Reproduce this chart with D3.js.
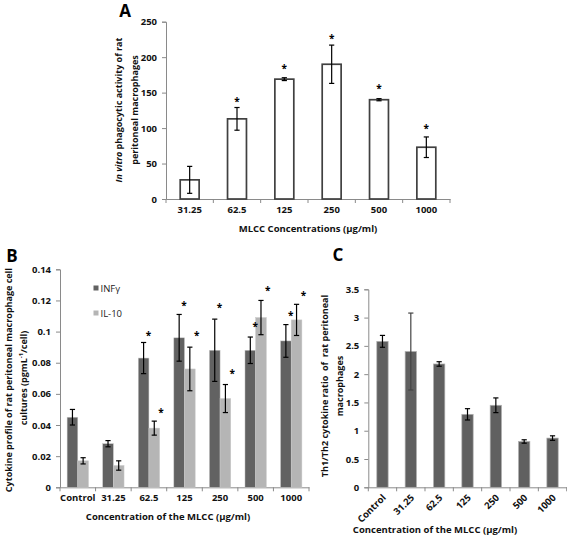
<!DOCTYPE html>
<html>
<head>
<meta charset="utf-8">
<script src="https://cdn.jsdelivr.net/npm/d3@7"></script>
<style>
  html, body { margin: 0; padding: 0; background: #fff; }
  svg { display: block; }
  text { font-family: "Open Sans", Lato, sans-serif; }
</style>
</head>
<body>
<svg id="chart" width="567" height="541"></svg>
<script>
// ---------------- Panel A data ----------------
const A_categories = ["31.25", "62.5", "125", "250", "500", "1000"];
const A_values = [27, 113, 169, 190, 140, 73];
const A_errors = [19, 16, 2, 27, 1.5, 14.5];
const A_stars = [null, 139, 186, 229, 158, 101];
const A_yTicks = [0, 50, 100, 150, 200, 250];

// ---------------- Panel B data ----------------
const B_categories = ["Control", "31.25", "62.5", "125", "250", "500", "1000"];
const B_series = ["INFγ", "IL-10"];
const B_infg = [0.045, 0.028, 0.083, 0.096, 0.088, 0.088, 0.094];
const B_infgErr = [0.005, 0.002, 0.010, 0.015, 0.020, 0.0085, 0.0105];
const B_il10 = [0.017, 0.014, 0.038, 0.076, 0.057, 0.109, 0.1075];
const B_il10Err = [0.002, 0.003, 0.0045, 0.014, 0.009, 0.011, 0.010];
const B_infgStars = [null, null, 0.0985, 0.1178, 0.1167, 0.1043, 0.1113];
const B_il10Stars = [null, null, 0.0493, 0.0985, 0.0743, 0.1274, 0.1244];
const B_yTicks = [0, 0.02, 0.04, 0.06, 0.08, 0.1, 0.12, 0.14];

// ---------------- Panel C data ----------------
const C_categories = ["Control", "31.25", "62.5", "125", "250", "500", "1000"];
const C_values = [2.58, 2.40, 2.18, 1.29, 1.45, 0.81, 0.87];
const C_errors = [0.105, 0.68, 0.04, 0.10, 0.13, 0.03, 0.04];
const C_yTicks = [0, 0.5, 1, 1.5, 2, 2.5, 3, 3.5];

const svg = d3.select("#chart");
const axisColor = "#8a8a8a";
const FONT = "'Open Sans', Lato, sans-serif";
const fmt = d3.format("~g");

function styleAxis(g) {
  g.select(".domain").attr("stroke", axisColor).attr("stroke-width", 1);
  g.selectAll(".tick line").attr("stroke", axisColor);
  g.selectAll(".tick text").attr("fill", "#111").attr("font-size", 9.5).attr("font-weight", 700)
    .attr("font-family", FONT);
}

function bandTicks(g, x, y0) {
  const step = x.step();
  const off = (step - x.bandwidth()) / 2;
  const bounds = x.domain().map(d => x(d) - off);
  bounds.push(x(x.domain()[x.domain().length - 1]) + x.bandwidth() + off);
  g.selectAll(".bt").data(bounds).join("line")
    .attr("x1", d => d).attr("x2", d => d)
    .attr("y1", y0).attr("y2", y0 + 4)
    .attr("stroke", axisColor);
}

function errorBar(g, cx, yTop, yBot, color) {
  const cap = 2.6;
  g.append("line").attr("x1", cx).attr("x2", cx).attr("y1", yTop).attr("y2", yBot)
    .attr("stroke", color).attr("stroke-width", 1.2);
  g.append("line").attr("x1", cx - cap).attr("x2", cx + cap).attr("y1", yTop).attr("y2", yTop)
    .attr("stroke", color).attr("stroke-width", 1.2);
  g.append("line").attr("x1", cx - cap).attr("x2", cx + cap).attr("y1", yBot).attr("y2", yBot)
    .attr("stroke", color).attr("stroke-width", 1.2);
}

function star(g, cx, cy) {
  g.append("text").attr("x", cx).attr("y", cy + 5).attr("text-anchor", "middle")
    .attr("font-size", 10).attr("font-weight", 700).attr("fill", "#000")
    .attr("font-family", "'DejaVu Sans', sans-serif").text("*");
}

function titleText(g, x, y, size) {
  return g.append("text").attr("x", x).attr("y", y).attr("text-anchor", "middle")
    .attr("font-size", size).attr("font-weight", 700).attr("font-family", FONT).attr("fill", "#111");
}

function rotText(g, x, y, size) {
  return g.append("text").attr("transform", `translate(${x},${y}) rotate(-90)`)
    .attr("text-anchor", "middle").attr("font-size", size).attr("font-weight", 700)
    .attr("font-family", FONT).attr("fill", "#111");
}

function panelLetter(g, x, y, s) {
  g.append("text").attr("x", x).attr("y", y).attr("text-anchor", "middle")
    .attr("font-size", 17).attr("font-weight", 700)
    .attr("font-family", "'Liberation Sans', Arial, sans-serif").text(s);
}

// ================= Panel A =================
{
  const g = svg.append("g");
  const x = d3.scaleBand().domain(A_categories).range([166, 450]).paddingInner(0.6).paddingOuter(0.3);
  const y = d3.scaleLinear().domain([0, 250]).range([199, 21.7]);

  const ya = g.append("g").attr("transform", "translate(166,0)")
    .call(d3.axisLeft(y).tickValues(A_yTicks).tickSize(4).tickPadding(5).tickFormat(fmt));
  styleAxis(ya);
  const xa = g.append("g").attr("transform", "translate(0,199)")
    .call(d3.axisBottom(x).tickSize(0).tickPadding(7));
  styleAxis(xa);
  bandTicks(g, x, 199);

  g.selectAll(".barA").data(A_categories).join("rect")
    .attr("x", d => x(d)).attr("width", x.bandwidth())
    .attr("y", (d, i) => y(A_values[i])).attr("height", (d, i) => 199 - y(A_values[i]))
    .attr("fill", "#fff").attr("stroke", "#404040").attr("stroke-width", 1.7);

  A_categories.forEach((c, i) => {
    const cx = x(c) + x.bandwidth() / 2;
    errorBar(g, cx, y(A_values[i] + A_errors[i]), y(A_values[i] - A_errors[i]), "#000");
    if (A_stars[i] != null) star(g, cx, y(A_stars[i]));
  });

  titleText(g, 308, 232, 9.5).text("MLCC Concentrations (µg/ml)");

  const yt = rotText(g, 122, 110, 9);
  yt.append("tspan").attr("font-style", "italic").text("In vitro");
  yt.append("tspan").text(" phagocytic activity of rat");
  rotText(g, 137.5, 110, 9).text("peritoneal macrophages");

  panelLetter(g, 125, 17, "A");
}

// ================= Panel B =================
{
  const g = svg.append("g");
  const x = d3.scaleBand().domain(B_categories).range([60, 309]).paddingInner(0.4).paddingOuter(0.2);
  const y = d3.scaleLinear().domain([0, 0.14]).range([487.3, 269.3]);

  const ya = g.append("g").attr("transform", "translate(60,0)")
    .call(d3.axisLeft(y).tickValues(B_yTicks).tickSize(4).tickPadding(5).tickFormat(fmt));
  styleAxis(ya);
  const xa = g.append("g").attr("transform", "translate(0,487.3)")
    .call(d3.axisBottom(x).tickSize(0).tickPadding(7));
  styleAxis(xa);
  bandTicks(g, x, 487.3);

  const xs = d3.scaleBand().domain(B_series).range([0, x.bandwidth()]);
  const colors = ["#626262", "#b5b5b5"];
  const vals = [B_infg, B_il10], errs = [B_infgErr, B_il10Err], stars = [B_infgStars, B_il10Stars];

  B_series.forEach((s, si) => {
    g.selectAll(".barB" + si).data(B_categories).join("rect")
      .attr("x", d => x(d) + xs(s)).attr("width", xs.bandwidth())
      .attr("y", (d, i) => y(vals[si][i])).attr("height", (d, i) => 487.3 - y(vals[si][i]))
      .attr("fill", colors[si]).attr("stroke", "#c8c8c8").attr("stroke-width", 0.5);
  });
  B_series.forEach((s, si) => {
    B_categories.forEach((c, i) => {
      const cx = x(c) + xs(s) + xs.bandwidth() / 2;
      errorBar(g, cx, y(vals[si][i] + errs[si][i]), y(vals[si][i] - errs[si][i]), "#000");
      if (stars[si][i] != null) star(g, x(c) + xs(s) + xs.bandwidth() + (si ? 1.5 : -0.5), y(stars[si][i]));
    });
  });

  // legend
  B_series.forEach((s, si) => {
    const ly = 288 + si * 25;
    g.append("rect").attr("x", 93.5).attr("y", ly - 2.5).attr("width", 5).attr("height", 5).attr("fill", colors[si]);
    g.append("text").attr("x", 100.5).attr("y", ly + 3.5).attr("font-size", 9.5)
      .attr("font-family", FONT).attr("fill", "#222").text(s);
  });

  titleText(g, 168, 520, 9.5).text("Concentration of the MLCC (µg/ml)");

  rotText(g, 11.5, 380, 9).text("Cytokine profile of rat peritoneal macrophage cell");
  const l2 = rotText(g, 26.5, 378, 9);
  l2.append("tspan").text("cultures (pgmL");
  l2.append("tspan").attr("font-size", 6).attr("dy", -3.5).text("-1");
  l2.append("tspan").attr("dy", 3.5).text("/cell)");

  panelLetter(g, 12, 262, "B");
}

// ================= Panel C =================
{
  const g = svg.append("g");
  const x = d3.scaleBand().domain(C_categories).range([368.3, 566.7]).paddingInner(0.6).paddingOuter(0.3);
  const y = d3.scaleLinear().domain([0, 3.5]).range([487.3, 289.3]);

  const ya = g.append("g").attr("transform", "translate(368.3,0)")
    .call(d3.axisLeft(y).tickValues(C_yTicks).tickSize(4).tickPadding(5).tickFormat(fmt));
  styleAxis(ya);
  const xa = g.append("g").attr("transform", "translate(0,487.3)")
    .call(d3.axisBottom(x).tickSize(0).tickPadding(0));
  styleAxis(xa);
  xa.selectAll(".tick text")
    .attr("text-anchor", "end").attr("dy", null)
    .attr("transform", "translate(4,11) rotate(-45)");
  bandTicks(g, x, 487.3);

  g.selectAll(".barC").data(C_categories).join("rect")
    .attr("x", d => x(d)).attr("width", x.bandwidth())
    .attr("y", (d, i) => y(C_values[i])).attr("height", (d, i) => 487.3 - y(C_values[i]))
    .attr("fill", "#606060").attr("stroke", "#b0b0b0").attr("stroke-width", 0.7);

  C_categories.forEach((c, i) => {
    const cx = x(c) + x.bandwidth() / 2;
    errorBar(g, cx, y(C_values[i] + C_errors[i]), y(C_values[i] - C_errors[i]), i === 1 ? "#444" : "#000");
  });

  titleText(g, 435, 533, 9.5).text("Concentration of the MLCC (µg/ml)");

  rotText(g, 328, 386, 9).attr("xml:space", "preserve")
    .text("Th1/Th2 cytokine ratio  of  rat peritoneal");
  rotText(g, 342.5, 386, 9).text("macrophages");

  panelLetter(g, 338, 261, "C");
}
</script>
</body>
</html>
